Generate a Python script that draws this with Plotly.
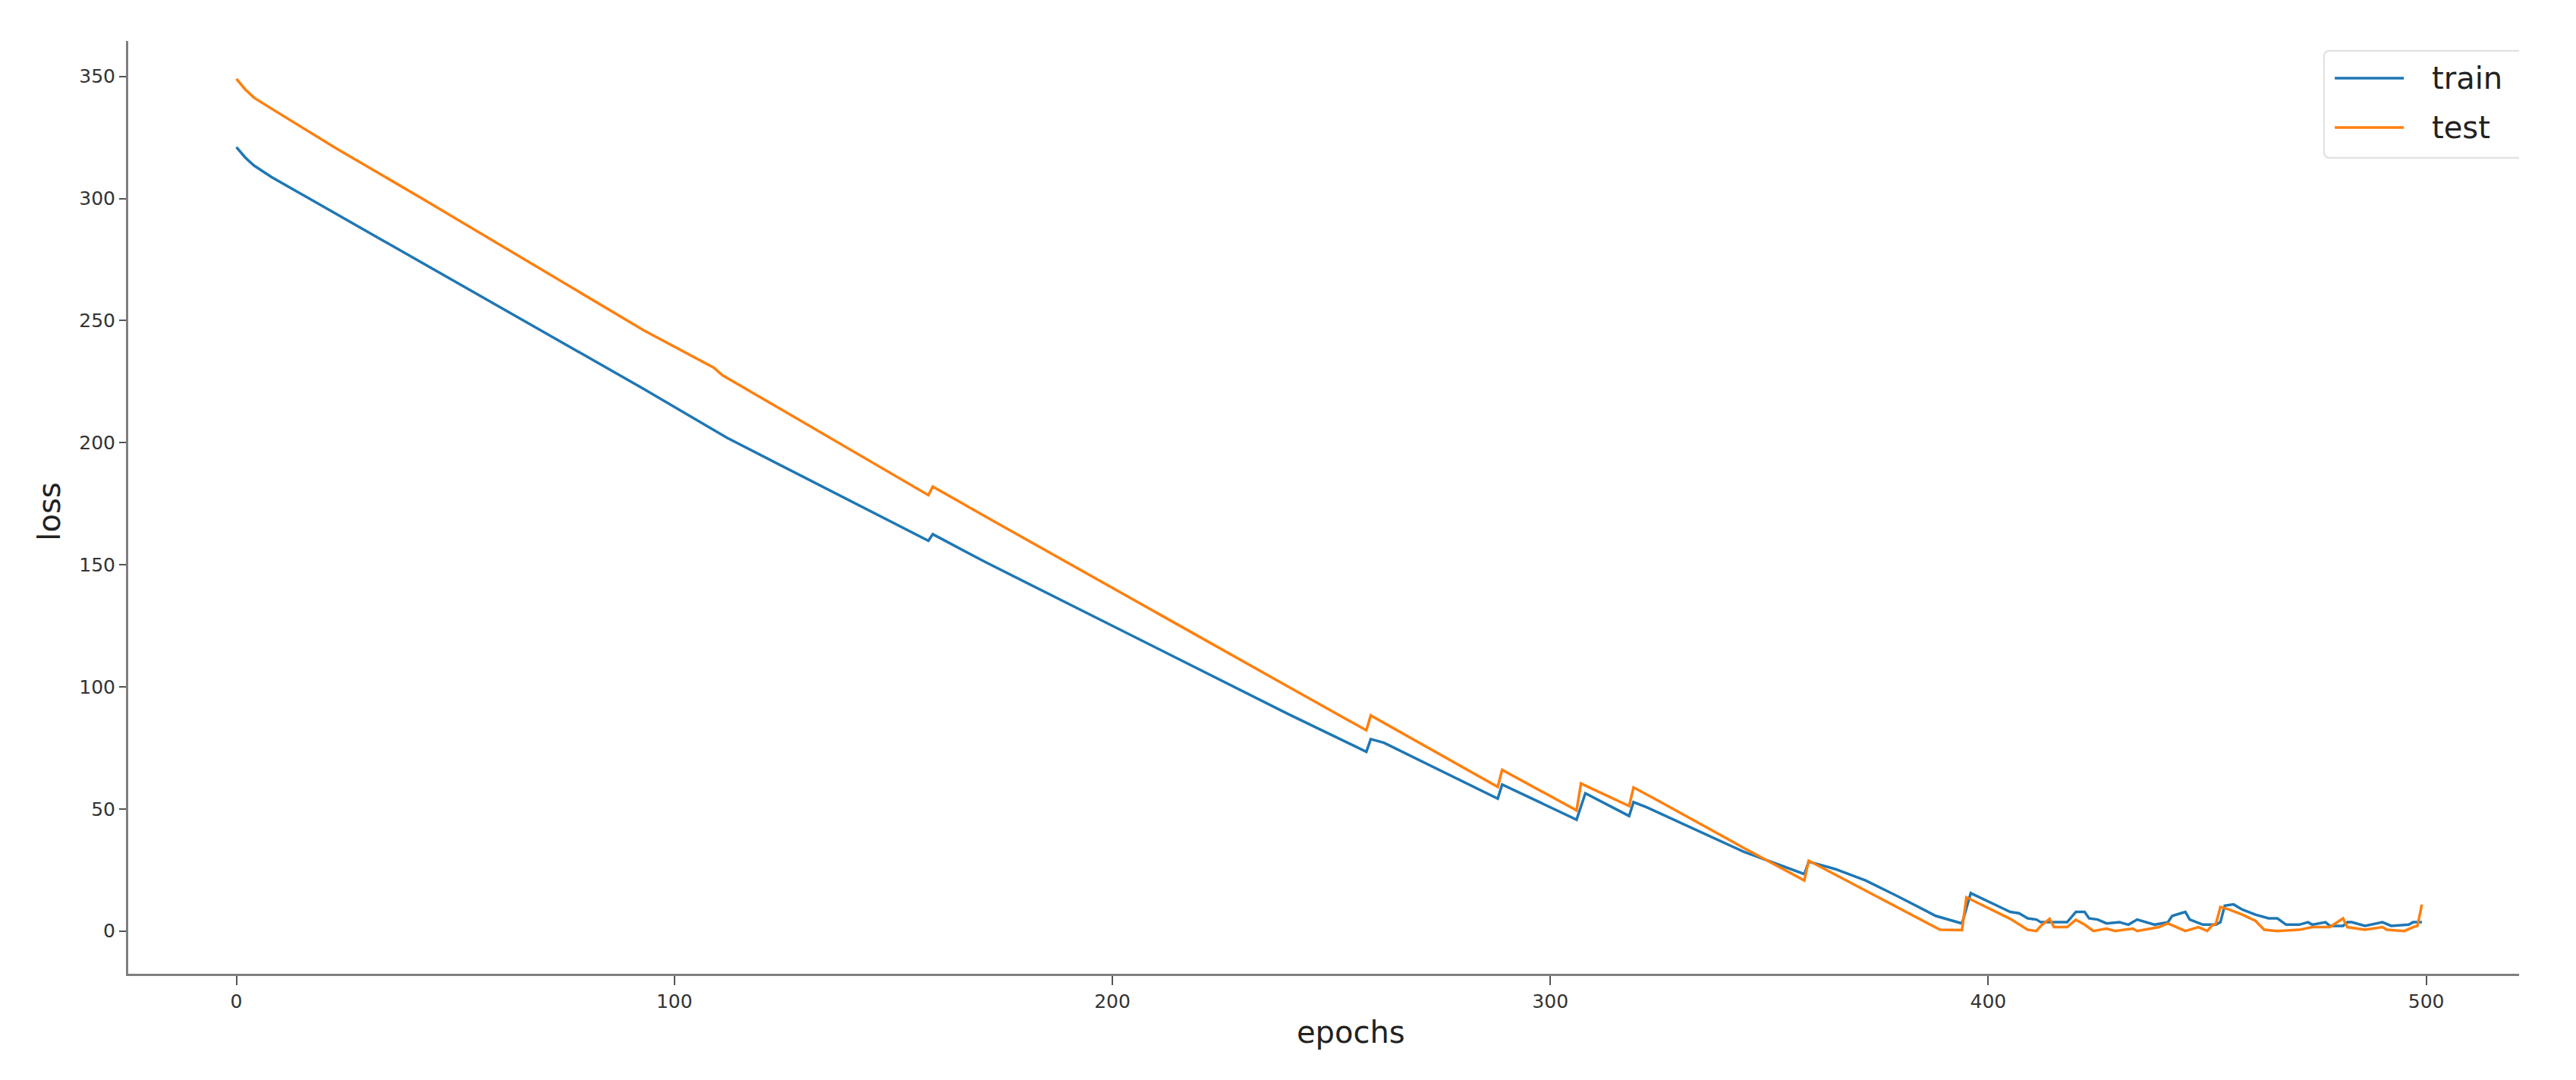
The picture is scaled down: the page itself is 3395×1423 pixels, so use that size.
import plotly.graph_objects as go

# ---- data (epoch, loss) ----
train_epochs = [0, 2, 4, 8, 16, 93, 112, 158, 159, 171, 240, 258, 259, 262, 288, 289,
                306, 308, 318, 319, 322, 344, 358, 359, 365, 372, 379, 388, 394, 396,
                402, 405, 407, 409, 411, 412, 418, 420, 422, 423, 425, 427, 430, 432,
                434, 436, 438, 441, 442, 444, 445, 446, 449, 452, 453, 454, 456, 458,
                461, 464, 466, 468, 471, 473, 474, 477, 478, 481, 482, 483, 486, 490,
                492, 496, 497, 499]
train_loss = [321.0, 316.8, 313.5, 308.8, 300.6, 222.0, 202.0, 159.8, 162.5, 151.1,
              89.0, 73.4, 78.6, 77.1, 54.2, 60.0, 45.6, 56.4, 47.1, 52.8, 50.7, 32.6,
              23.3, 28.4, 25.4, 20.7, 14.5, 6.2, 3.1, 15.5, 10.4, 7.8, 7.3, 5.2, 4.7,
              3.6, 3.6, 7.8, 7.8, 5.2, 4.7, 3.1, 3.6, 2.6, 4.7, 3.6, 2.6, 3.6, 6.2,
              7.3, 7.8, 4.7, 2.6, 2.6, 3.6, 10.4, 10.9, 8.8, 6.7, 5.2, 5.2, 2.6, 2.6,
              3.6, 2.6, 3.6, 2.1, 2.1, 3.6, 3.6, 2.1, 3.6, 2.1, 2.6, 3.6, 3.6]

test_epochs = [0, 2, 4, 8, 23, 42, 93, 109, 111, 158, 159, 171, 240, 258, 259, 288,
               289, 306, 307, 318, 319, 324, 344, 358, 359, 389, 394, 395, 405, 409,
               411, 412, 414, 415, 418, 420, 422, 424, 427, 429, 433, 434, 439, 441,
               443, 445, 448, 450, 451, 452, 453, 455, 458, 461, 463, 466, 471, 474,
               478, 481, 482, 486, 490, 491, 495, 497, 498, 499]
test_loss = [349.0, 344.7, 341.3, 336.8, 320.3, 300.4, 246.0, 230.7, 227.6, 178.5,
             182.0, 169.8, 100.2, 82.2, 88.3, 59.0, 66.0, 49.4, 60.4, 51.2, 58.8, 54.0,
             34.2, 20.7, 28.8, 0.5, 0.4, 13.8, 5.0, 0.5, 0.0, 2.1, 5.0, 1.6, 1.6, 4.6,
             2.6, 0.0, 1.0, 0.0, 1.0, 0.0, 1.6, 3.1, 1.6, 0.0, 1.6, 0.0, 2.1, 3.1, 9.8,
             8.8, 6.7, 4.2, 0.5, 0.0, 0.5, 1.6, 1.6, 5.2, 1.6, 0.5, 1.6, 0.5, 0.0, 1.6,
             2.1, 10.8]

series_names = ["train", "test"]
series_colors = ["#1f77b4", "#ff7f0e"]

x_ticks = [0, 100, 200, 300, 400, 500]
y_ticks = [0, 50, 100, 150, 200, 250, 300, 350]

FONT = "DejaVu Sans"

fig = go.Figure()
for name, xs, ys, col in zip(series_names, [train_epochs, test_epochs],
                             [train_loss, test_loss], series_colors):
    fig.add_trace(go.Scatter(x=xs, y=ys, mode="lines", name=name, showlegend=False,
                             line=dict(color=col, width=3.5)))

axis_common = dict(showgrid=False, zeroline=False, showline=True,
                   linecolor="#7f7f7f", linewidth=3, ticks="outside",
                   tickcolor="#555555", tickwidth=2,
                   tickfont=dict(family=FONT, size=25, color="#333333"))

# ---- legend box drawn in paper coordinates (matplotlib-like legend) ----
lx0, lx1 = 0.9184, 1.0
ly0, ly1 = 0.8747, 0.9894
rx, ry = 0.0025, 0.0065
legend_path = (f"M {lx1},{ly1} L {lx0 + rx},{ly1} Q {lx0},{ly1} {lx0},{ly1 - ry} "
               f"L {lx0},{ly0 + ry} Q {lx0},{ly0} {lx0 + rx},{ly0} L {lx1},{ly0}")
shapes = [dict(type="path", xref="paper", yref="paper", path=legend_path,
               line=dict(color="#e3e3e3", width=2.5), fillcolor="rgba(255,255,255,0.8)",
               layer="below")]
annotations = []
legend_rows_y = [0.9601, 0.9072]
for name, col, yy in zip(series_names, series_colors, legend_rows_y):
    shapes.append(dict(type="line", xref="paper", yref="paper",
                       x0=0.9229, x1=0.9518, y0=yy, y1=yy,
                       line=dict(color=col, width=3.5)))
    annotations.append(dict(text=name, xref="paper", yref="paper", x=0.9629, y=yy,
                            xanchor="left", yanchor="middle", showarrow=False,
                            font=dict(family=FONT, size=40, color="#222222")))

annotations += [
    dict(text="epochs", xref="paper", yref="paper", x=0.5115, y=-0.063,
         xanchor="center", yanchor="middle", showarrow=False,
         font=dict(family=FONT, size=40, color="#222222")),
    dict(text="loss", xref="paper", yref="paper", x=-0.033, y=0.495,
         xanchor="center", yanchor="middle", showarrow=False, textangle=-90,
         font=dict(family=FONT, size=40, color="#222222")),
]

fig.update_layout(
    width=3395, height=1423,
    margin=dict(l=169, r=75, t=54, b=140),
    paper_bgcolor="white", plot_bgcolor="white",
    font=dict(family=FONT, color="#222222"),
    showlegend=False,
    xaxis=dict(range=[-24.7, 521.2], tickvals=x_ticks, ticklen=12, **axis_common),
    yaxis=dict(range=[-17.5, 364.5], tickvals=y_ticks, ticklen=9, **axis_common),
    shapes=shapes,
    annotations=annotations,
)

fig.write_html(
    "out.html",
    config={"displayModeBar": False},
    post_script="document.body.style.margin='0';document.body.style.padding='0';"
                "document.body.style.overflow='hidden';",
)
